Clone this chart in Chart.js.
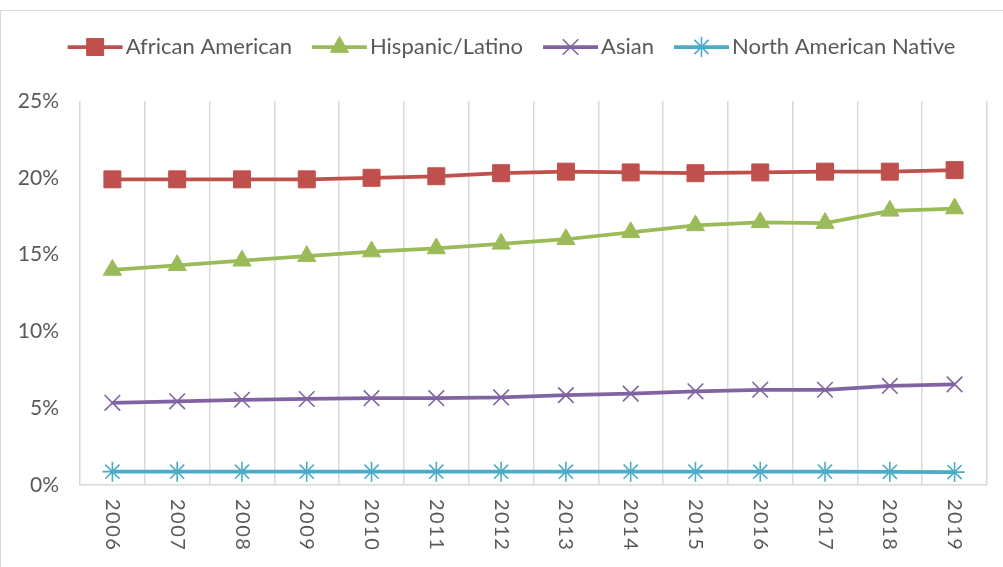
<!DOCTYPE html>
<html>
<head>
<meta charset="utf-8">
<script src="https://cdn.jsdelivr.net/npm/chart.js@4/dist/chart.umd.min.js"></script>
<style>
  html, body { margin: 0; padding: 0; background: #fff; overflow: hidden; }
  #wrap { position: relative; width: 1003px; height: 567px; }
  #frame { position: absolute; left: 0; top: 10px; width: 1020px; height: 600px;
           border: 1px solid #d9d9d9; box-sizing: border-box; }
  canvas { position: absolute; left: 0; top: 0; }
</style>
</head>
<body>
<div id="wrap">
  <div id="frame"></div>
  <canvas id="myChart" width="1003" height="567"></canvas>
</div>
<script>
  const years = ['2006','2007','2008','2009','2010','2011','2012','2013','2014','2015','2016','2017','2018','2019'];
  const africanAmerican = [19.9, 19.9, 19.9, 19.9, 20.0, 20.1, 20.3, 20.4, 20.35, 20.3, 20.35, 20.4, 20.4, 20.5];
  const hispanicLatino  = [14.0, 14.3, 14.6, 14.9, 15.2, 15.4, 15.7, 16.0, 16.45, 16.9, 17.1, 17.05, 17.85, 18.0];
  const asian           = [5.35, 5.45, 5.55, 5.6, 5.65, 5.65, 5.7, 5.85, 5.95, 6.1, 6.2, 6.2, 6.45, 6.55];
  const nativeAmerican  = [0.87, 0.87, 0.87, 0.87, 0.87, 0.87, 0.87, 0.87, 0.87, 0.87, 0.87, 0.87, 0.86, 0.84];
  const yTicks = [0, 5, 10, 15, 20, 25];

  Chart.defaults.font.family = 'Lato, "Open Sans", sans-serif';
  const textColor = '#595959';
  const padTop = 16, plotTop = 101, legendShift = 18;

  function series(label, values, color, style, radius, bw){
    return {
      label: label,
      data: values,
      borderColor: color,
      backgroundColor: color,
      borderWidth: 3.75,
      pointStyle: style,
      pointRadius: radius,
      pointHoverRadius: radius,
      pointBorderWidth: bw,
      pointBorderColor: color,
      pointBackgroundColor: color,
      tension: 0
    };
  }

  // legend entries: line segment with the series marker in the middle
  const legendMarks = {
    id: 'legendMarks',
    afterInit(chart){
      const lg = chart.legend;
      // leave room under the legend so the plot starts where the reference does
      const fit = lg.fit.bind(lg);
      lg.fit = function(){ fit(); this.height = plotTop - padTop; };
      // legend sits a little right of the canvas centre
      const draw = lg.draw.bind(lg);
      lg.draw = function(){
        const ctx = this.ctx;
        ctx.save();
        ctx.translate(legendShift, 0);
        draw();
        ctx.restore();
      };
    },
    afterDraw(chart){
      const legend = chart.legend, ctx = chart.ctx;
      if (!legend || !legend.legendHitBoxes) return;
      const lineW = legend.options.labels.boxWidth + 8;
      legend.legendHitBoxes.forEach((box, i) => {
        const ds = chart.data.datasets[i];
        const x0 = box.left + legendShift;
        const y = box.top + box.height / 2;
        ctx.save();
        ctx.strokeStyle = ds.borderColor;
        ctx.lineWidth = ds.borderWidth;
        ctx.beginPath();
        ctx.moveTo(x0, y);
        ctx.lineTo(x0 + lineW, y);
        ctx.stroke();
        ctx.fillStyle = ds.pointBackgroundColor;
        ctx.lineWidth = ds.pointBorderWidth;
        Chart.helpers.drawPoint(ctx, {
          pointStyle: ds.pointStyle, radius: ds.pointRadius, borderWidth: ds.pointBorderWidth, rotation: 0
        }, x0 + lineW / 2, y);
        ctx.restore();
      });
    }
  };

  // year labels rotated clockwise, reading top to bottom
  const yearLabels = {
    id: 'yearLabels',
    afterDraw(chart){
      const ctx = chart.ctx, xs = chart.scales.x;
      ctx.save();
      ctx.fillStyle = textColor;
      ctx.font = '20px Lato, "Open Sans", sans-serif';
      ctx.textAlign = 'left';
      ctx.textBaseline = 'middle';
      if ('letterSpacing' in ctx) ctx.letterSpacing = '1.5px';
      years.forEach((yr, i) => {
        const x = xs.getPixelForValue(i);
        ctx.save();
        ctx.translate(x, chart.chartArea.bottom + 14);
        ctx.rotate(Math.PI / 2);
        ctx.fillText(yr, 0, 0);
        ctx.restore();
      });
      ctx.restore();
    }
  };

  const context = document.getElementById('myChart').getContext('2d');
  const myChart = new Chart(context, {
    type: 'line',
    data: {
      labels: years,
      datasets: [
        series('African American', africanAmerican, '#C0504D', 'rect', 12, 1),
        series('Hispanic/Latino', hispanicLatino, '#9BBB59', 'triangle', 10.5, 1),
        series('Asian', asian, '#8064A2', 'crossRot', 11, 1.6),
        series('North American Native', nativeAmerican, '#4BACC6', 'star', 10, 1.6)
      ]
    },
    options: {
      responsive: false,
      animation: false,
      layout: { padding: { top: padTop, right: 16, left: 0, bottom: 0 } },
      plugins: {
        tooltip: { enabled: false },
        legend: {
          position: 'top',
          align: 'center',
          labels: {
            color: textColor,
            font: { size: 22 },
            boxWidth: 47,
            boxHeight: 22,
            padding: 20,
            generateLabels(chart){
              return chart.data.datasets.map((ds, i) => ({
                text: ds.label,
                fillStyle: 'rgba(0,0,0,0)',
                strokeStyle: 'rgba(0,0,0,0)',
                lineWidth: 0,
                fontColor: textColor,
                hidden: false,
                datasetIndex: i
              }));
            }
          }
        }
      },
      scales: {
        x: {
          offset: true,
          grid: { display: true, offset: true, color: '#D9D9D9', lineWidth: 1.5, drawTicks: false },
          border: { display: true, color: '#D9D9D9', width: 1.5 },
          ticks: { display: false },
          afterFit(scale){ scale.height = 82; }
        },
        y: {
          min: 0,
          max: 25,
          afterBuildTicks(scale){ scale.ticks = yTicks.map(v => ({ value: v })); },
          grid: { display: false },
          border: { display: false },
          ticks: {
            color: textColor,
            font: { size: 21 },
            padding: 13,
            callback: v => v + '%'
          },
          afterFit(scale){ scale.width = 80; }
        }
      }
    },
    plugins: [legendMarks, yearLabels]
  });
</script>
</body>
</html>
